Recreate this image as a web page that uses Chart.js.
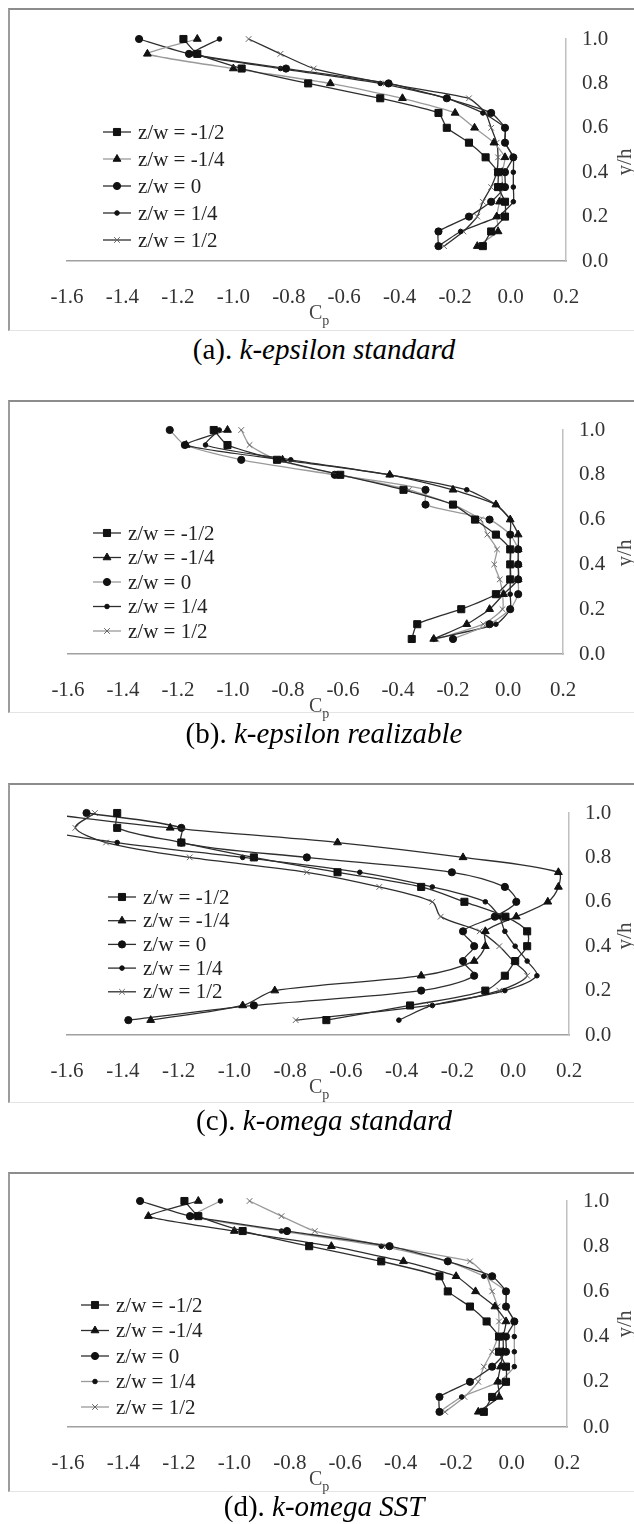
<!DOCTYPE html>
<html>
<head>
<meta charset="utf-8">
<title>Cp profiles</title>
<script src="https://cdn.jsdelivr.net/npm/chart.js@4.4.1/dist/chart.umd.min.js"></script>
<style>
  body { margin:0; width:634px; height:1524px; position:relative; overflow:hidden; background:#fff;
         font-family:"Liberation Serif","Times New Roman",Tinos,"Nimbus Roman","DejaVu Serif",serif; }
  .frame { position:absolute; left:8px; width:640px; box-sizing:border-box;
           border-top:2px solid #8c8c8c; border-left:2px solid #9c9c9c; border-bottom:1px solid #e4e4e4; }
  canvas.plot { position:absolute; left:0; }
  .cap { position:absolute; left:0; width:648px; text-align:center; font-size:29px; line-height:32px; color:#000; }
  .cp { position:absolute; font-size:20px; line-height:20px; color:#444; }
  .cp sub { font-size:14px; vertical-align:-6px; }
  .yh { position:absolute; width:44px; height:24px; line-height:24px; text-align:center; font-size:21px; color:#444;
        transform:rotate(-90deg); white-space:nowrap; }
</style>
</head>
<body>
<script>
// niveaux y/h des prises de pression (15 stations, du bas vers le haut)
const yLevels = [0.067, 0.133, 0.2, 0.267, 0.333, 0.4, 0.467, 0.533, 0.6, 0.667, 0.733, 0.8, 0.867, 0.933, 1.0];
const xTickValues = [-1.6, -1.4, -1.2, -1.0, -0.8, -0.6, -0.4, -0.2, 0.0, 0.2];
const yTickValues = [0.0, 0.2, 0.4, 0.6, 0.8, 1.0];
const seriesLabels = ['z/w = -1/2', 'z/w = -1/4', 'z/w = 0', 'z/w = 1/4', 'z/w = 1/2'];

// (a) k-epsilon standard
const cpA_m12 = [-0.10, -0.07, -0.02, -0.02, -0.045, -0.045, -0.09, -0.15, -0.23, -0.26, -0.47, -0.73, -0.97, -1.13, -1.18];
const cpA_m14 = [-0.12, -0.045, -0.05, -0.04, -0.03, -0.03, -0.02, -0.06, -0.13, -0.20, -0.39, -0.65, -1.00, -1.31, -1.13];
const cpA_0   = [-0.26, -0.26, -0.15, -0.07, -0.02, -0.02, 0.01, -0.02, -0.02, -0.07, -0.23, -0.44, -0.81, -1.16, -1.34];
const cpA_p14 = [-0.26, -0.18, -0.045, 0.01, 0.01, 0.01, 0.01, -0.02, -0.02, -0.10, -0.23, -0.47, -0.83, -1.15, -1.05];
const cpA_p12 = [-0.24, -0.17, -0.12, -0.10, -0.07, -0.05, -0.045, -0.05, -0.07, -0.09, -0.15, -0.45, -0.71, -0.83, -0.945];

// (b) k-epsilon realizable
const cpB_m12 = [-0.35, -0.33, -0.17, -0.044, 0.008, 0.008, 0.008, -0.044, -0.12, -0.20, -0.38, -0.61, -0.84, -1.02, -1.07];
const cpB_m14 = [-0.27, -0.15, -0.067, -0.016, 0.037, 0.037, 0.037, 0.037, 0.008, -0.044, -0.20, -0.43, -0.82, -1.17, -1.02];
const cpB_0   = [-0.20, -0.067, 0.008, 0.037, 0.037, 0.037, 0.037, 0.008, -0.067, -0.30, -0.30, -0.63, -0.97, -1.175, -1.23];
const cpB_p14 = [-0.27, -0.044, 0.008, 0.008, 0.008, 0.008, 0.008, 0.008, 0.008, -0.044, -0.15, -0.43, -0.79, -1.10, -1.05];
const cpB_p12 = [-0.26, -0.09, -0.02, -0.02, -0.03, -0.05, -0.04, -0.075, -0.10, -0.20, -0.36, -0.61, -0.84, -0.94, -0.97];

// (c) k-omega standard
const cpC_m12 = [-0.67, -0.37, -0.10, -0.03, 0.007, 0.05, 0.05, -0.028, -0.175, -0.33, -0.63, -0.93, -1.19, -1.42, -1.42];
const cpC_m14 = [-1.30, -0.97, -0.855, -0.33, -0.14, -0.10, -0.10, 0.011, 0.124, 0.162, 0.162, -0.18, -0.63, -1.23, -1.70];
const cpC_0   = [-1.38, -0.93, -0.33, -0.14, -0.18, -0.14, -0.18, -0.066, 0.011, -0.03, -0.22, -0.74, -1.19, -1.19, -1.53];
const cpC_p14 = [-0.41, -0.29, -0.03, 0.085, 0.05, 0.007, -0.03, -0.05, -0.10, -0.29, -0.55, -0.97, -1.42, -1.70, -1.62];
const cpC_p12 = [-0.78, -0.30, -0.05, 0.05, 0.0, -0.05, -0.12, -0.26, -0.29, -0.48, -0.74, -1.16, -1.46, -1.57, -1.50];

// (d) k-omega SST
const cpD_m12 = [-0.10, -0.07, -0.02, -0.02, -0.045, -0.045, -0.09, -0.15, -0.23, -0.26, -0.47, -0.73, -0.97, -1.13, -1.18];
const cpD_m14 = [-0.12, -0.045, -0.05, -0.04, -0.03, -0.03, -0.02, -0.06, -0.13, -0.20, -0.39, -0.65, -1.00, -1.31, -1.13];
const cpD_0   = [-0.26, -0.26, -0.15, -0.07, -0.02, -0.02, 0.01, -0.02, -0.02, -0.07, -0.23, -0.44, -0.81, -1.16, -1.34];
const cpD_p14 = [-0.26, -0.18, -0.045, 0.01, 0.01, 0.01, 0.01, -0.02, -0.02, -0.10, -0.23, -0.47, -0.83, -1.15, -1.05];
const cpD_p12 = [-0.24, -0.17, -0.12, -0.10, -0.07, -0.05, -0.045, -0.05, -0.07, -0.09, -0.15, -0.45, -0.71, -0.83, -0.945];

const FONT = '"Liberation Serif", "Times New Roman", Tinos, "Nimbus Roman", "DejaVu Serif", serif';
const DARK = '#2e2e2e';
const LIGHT = '#9a9a9a';
const markerStyle = ['rect', 'triangle', 'circle', 'circle', 'crossRot'];
const markerRadius = [5, 4.5, 3.6, 2.3, 4];

// mise en page des 4 panneaux (coordonnées de la page)
const panels = [
  { tag: '(a). ', name: 'k-epsilon standard', series: [cpA_m12, cpA_m14, cpA_0, cpA_p14, cpA_p12], light: [1],
    top: 8, bottom: 331, plotTop: 39, plotBottom: 261, plotLeft: 67, plotRight: 566, captionY: 349,
    legendX: 103, legendY: 132, legendDy: 27, tension: 0.15 },
  { tag: '(b). ', name: 'k-epsilon realizable', series: [cpB_m12, cpB_m14, cpB_0, cpB_p14, cpB_p12], light: [2, 4],
    top: 400, bottom: 713, plotTop: 430, plotBottom: 654, plotLeft: 68, plotRight: 563, captionY: 733,
    legendX: 93, legendY: 533, legendDy: 24.5, tension: 0.2 },
  { tag: '(c). ', name: 'k-omega standard', series: [cpC_m12, cpC_m14, cpC_0, cpC_p14, cpC_p12], light: [],
    top: 783, bottom: 1103, plotTop: 813, plotBottom: 1035, plotLeft: 67, plotRight: 569, captionY: 1120,
    legendX: 108, legendY: 897, legendDy: 23.7, tension: 0.3 },
  { tag: '(d). ', name: 'k-omega SST', series: [cpD_m12, cpD_m14, cpD_0, cpD_p14, cpD_p12], light: [3, 4],
    top: 1172, bottom: 1492, plotTop: 1201, plotBottom: 1427, plotLeft: 68, plotRight: 567, captionY: 1506,
    legendX: 81, legendY: 1305, legendDy: 25.5, tension: 0.15 }
];

function fmt(v) {
  return (Math.round(v * 10) / 10).toFixed(1);
}

// légende façon Excel : trait + marqueur + texte
const legendLines = {
  id: 'legendLines',
  afterDatasetsDraw(chart, args, opts) {
    const ctx = chart.ctx;
    ctx.save();
    chart.data.datasets.forEach((ds, i) => {
      const y = opts.y + i * opts.dy;
      ctx.strokeStyle = ds.borderColor;
      ctx.lineWidth = 1.3;
      ctx.beginPath();
      ctx.moveTo(opts.x, y);
      ctx.lineTo(opts.x + 28, y);
      ctx.stroke();
      ctx.fillStyle = ds.pointBackgroundColor;
      ctx.strokeStyle = ds.pointBorderColor;
      ctx.lineWidth = 1;
      Chart.helpers.drawPoint(ctx, { pointStyle: ds.pointStyle, radius: ds.pointRadius, rotation: 0, borderWidth: 1 }, opts.x + 14, y);
      ctx.fillStyle = '#222';
      ctx.font = '21px ' + FONT;
      ctx.textAlign = 'left';
      ctx.textBaseline = 'middle';
      ctx.fillText(ds.label, opts.x + 35, y + 1);
    });
    ctx.restore();
  }
};

function addDiv(cls, css, html) {
  const d = document.createElement('div');
  d.className = cls;
  Object.assign(d.style, css);
  if (html) d.innerHTML = html;
  document.body.appendChild(d);
  return d;
}

function buildPanel(p) {
  const h = p.bottom - p.top;
  addDiv('frame', { top: p.top + 'px', height: h + 'px' });

  const canvas = document.createElement('canvas');
  canvas.className = 'plot';
  canvas.width = 634;
  canvas.height = h;
  canvas.style.top = p.top + 'px';
  canvas.style.width = '634px';
  canvas.style.height = h + 'px';
  document.body.appendChild(canvas);

  const datasets = p.series.map((vals, i) => ({
    label: seriesLabels[i],
    data: vals.map((x, k) => ({ x: x, y: yLevels[k] })),
    showLine: true,
    borderColor: p.light.includes(i) ? LIGHT : DARK,
    borderWidth: 1.3,
    tension: p.tension,
    pointStyle: markerStyle[i],
    pointRadius: markerRadius[i],
    pointBackgroundColor: '#111',
    pointBorderColor: markerStyle[i] === 'crossRot' ? '#666' : '#111',
    pointBorderWidth: 1,
    clip: { left: 0, top: 8, right: 8, bottom: 8 }
  }));

  new Chart(canvas, {
    type: 'scatter',
    data: { datasets },
    options: {
      responsive: false,
      animation: false,
      devicePixelRatio: 1,
      layout: { padding: { top: p.plotTop - p.top, left: p.plotLeft, right: 0, bottom: 0 } },
      plugins: {
        legend: { display: false },
        tooltip: { enabled: false },
        legendLines: { x: p.legendX, y: p.legendY - p.top, dy: p.legendDy }
      },
      scales: {
        x: {
          type: 'linear', position: 'bottom', min: -1.6, max: 0.2,
          afterBuildTicks: s => { s.ticks = xTickValues.map(v => ({ value: v })); },
          afterFit: s => { s.height = h - (p.plotBottom - p.top); },
          grid: { display: false, drawTicks: false },
          border: { display: true, color: '#a0a0a0', width: 1.5 },
          ticks: { padding: 24, color: '#333', font: { family: FONT, size: 21 }, maxRotation: 0, autoSkip: false, callback: v => fmt(v) }
        },
        y: {
          type: 'linear', position: 'right', min: 0, max: 1,
          afterBuildTicks: s => { s.ticks = yTickValues.map(v => ({ value: v })); },
          afterFit: s => { s.width = 634 - p.plotRight; },
          grid: { display: false, drawTicks: false },
          border: { display: true, color: '#c0c0c0', width: 1.5 },
          ticks: { padding: 16, color: '#333', font: { family: FONT, size: 21 }, autoSkip: false, callback: v => fmt(v) }
        }
      }
    },
    plugins: [legendLines]
  });

  // titres d'axes et légende du panneau
  addDiv('cp', { left: '309px', top: (p.plotBottom + 41) + 'px' }, 'C<sub>p</sub>');
  addDiv('yh', { left: (624 - 22) + 'px', top: (p.plotTop + 123 - 12) + 'px' }, 'y/h');
  addDiv('cap', { top: (p.captionY - 16) + 'px' }, p.tag + '<i>' + p.name + '</i>');
}

panels.forEach(buildPanel);
</script>
</body>
</html>
